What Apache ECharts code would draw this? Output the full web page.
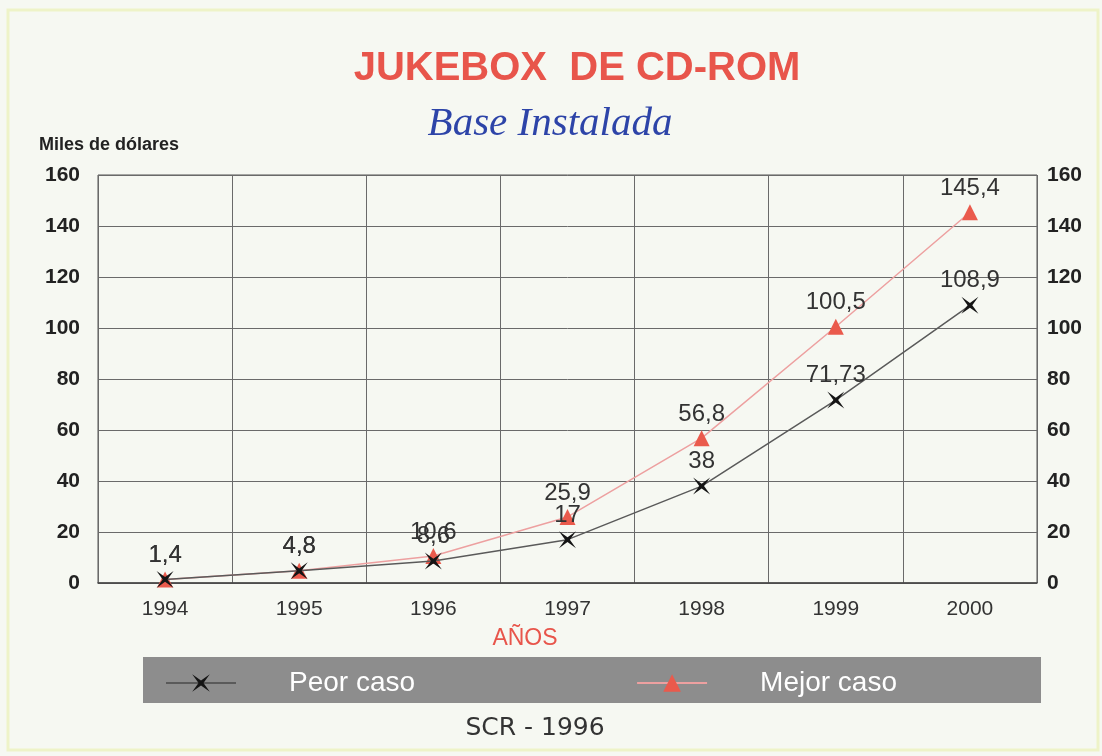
<!DOCTYPE html>
<html>
<head>
<meta charset="utf-8">
<title>Jukebox de CD-ROM</title>
<script src="https://cdn.jsdelivr.net/npm/echarts@6/dist/echarts.min.js"></script>
<style>
  html, body { margin: 0; padding: 0; background: #f6f8f2; }
  #chart { width: 1102px; height: 756px; }
</style>
</head>
<body>
<div id="chart"></div>
<script>
// datos
const years = ['1994', '1995', '1996', '1997', '1998', '1999', '2000'];
const peorCaso = [1.4, 4.8, 8.6, 17, 38, 71.73, 108.9];
const mejorCaso = [1.4, 4.8, 10.6, 25.9, 56.8, 100.5, 145.4];
const yTicks = [0, 20, 40, 60, 80, 100, 120, 140, 160];

const xSymbol = 'path://M0,0 L5,3.6 L10,0 L6.4,5 L10,10 L5,6.4 L0,10 L3.6,5 Z';

const conComa = (p) => String(p.value).replace('.', ',');

const valueAxis = (pos, showSplit, margin) => ({
    type: 'value',
    position: pos,
    min: yTicks[0],
    max: yTicks[yTicks.length - 1],
    interval: yTicks[1] - yTicks[0],
    axisLine: { show: false },
    axisTick: { show: false },
    splitLine: { show: showSplit, lineStyle: { color: '#6a6a6a', width: 1 } },
    axisLabel: {
        margin: margin,
        color: '#222',
        fontFamily: 'Liberation Sans, Arial',
        fontWeight: 'bold',
        fontSize: 21
    }
});

const etiqueta = {
    show: true, position: 'top', distance: 4,
    formatter: conComa,
    color: '#333', fontFamily: 'Liberation Sans, Arial', fontSize: 24
};

const getOption = () => {
    return {
        backgroundColor: '#f6f8f2',
        animation: false,
        title: [
            {
                text: 'JUKEBOX  DE CD-ROM',
                left: 572, top: 44, textAlign: 'center',
                textStyle: { color: '#e8554b', fontFamily: 'Liberation Sans, Arial', fontWeight: 'bold', fontSize: 40 }
            },
            {
                text: 'Base Instalada',
                left: 545, top: 99, textAlign: 'center',
                textStyle: { color: '#2d44a8', fontFamily: 'Liberation Serif, Times New Roman', fontStyle: 'italic', fontWeight: 'normal', fontSize: 41 }
            },
            {
                text: 'Miles de dólares',
                left: 34, top: 131,
                textStyle: { color: '#222', fontFamily: 'Liberation Sans, Arial', fontWeight: 'bold', fontSize: 18 }
            },
            {
                text: 'AÑOS',
                left: 520, top: 622, textAlign: 'center',
                textStyle: { color: '#e8554b', fontFamily: 'Liberation Sans, Arial', fontWeight: 'normal', fontSize: 23 }
            },
            {
                text: 'SCR - 1996',
                left: 530, top: 711, textAlign: 'center',
                textStyle: { color: '#333', fontFamily: 'DejaVu Sans, Lato', fontWeight: 'normal', fontSize: 25 }
            }
        ],
        graphic: [
            {
                type: 'rect',
                shape: { x: 143, y: 657, width: 898, height: 46 },
                style: { fill: '#8d8d8d' },
                z: -1
            },
            {
                type: 'rect',
                shape: { x: 8, y: 10, width: 1090, height: 740 },
                style: { fill: 'none', stroke: '#eef3c8', lineWidth: 3 },
                z: -1
            }
        ],
        legend: {
            left: 160,
            top: 664,
            itemWidth: 70,
            itemHeight: 22,
            itemGap: 221,
            textStyle: {
                color: '#ffffff',
                fontFamily: 'Liberation Sans, Arial',
                fontSize: 28,
                padding: [0, 0, 0, 48]
            },
            data: ['Peor caso', 'Mejor caso']
        },
        grid: {
            left: 98,
            right: 65,
            top: 175,
            bottom: 173,
            show: true,
            borderColor: '#555',
            borderWidth: 1,
            backgroundColor: 'transparent'
        },
        xAxis: {
            type: 'category',
            data: years,
            boundaryGap: true,
            axisLine: { show: true, lineStyle: { color: '#444', width: 1.5 } },
            axisTick: { show: false },
            splitLine: { show: true, interval: 0, lineStyle: { color: '#6a6a6a', width: 1 } },
            axisLabel: {
                margin: 16,
                color: '#333',
                fontFamily: 'Liberation Sans, Arial',
                fontSize: 21
            }
        },
        yAxis: [valueAxis('left', true, 18), valueAxis('right', false, 10)],
        series: [
            {
                name: 'Peor caso',
                type: 'line',
                data: peorCaso,
                symbol: xSymbol,
                symbolSize: 17,
                itemStyle: { color: '#151515' },
                lineStyle: { color: '#5a5a5a', width: 1.5 },
                label: etiqueta,
                z: 3
            },
            {
                name: 'Mejor caso',
                type: 'line',
                data: mejorCaso,
                symbol: 'triangle',
                symbolSize: 16,
                itemStyle: { color: '#ea5a4c' },
                lineStyle: { color: '#eda0a0', width: 1.5 },
                label: etiqueta,
                z: 2
            }
        ]
    };
};

const initChart = () => {
    const chart = echarts.init(document.getElementById('chart'));
    chart.setOption(getOption());
};

window.addEventListener('load', () => {
    initChart();
});
</script>
</body>
</html>
